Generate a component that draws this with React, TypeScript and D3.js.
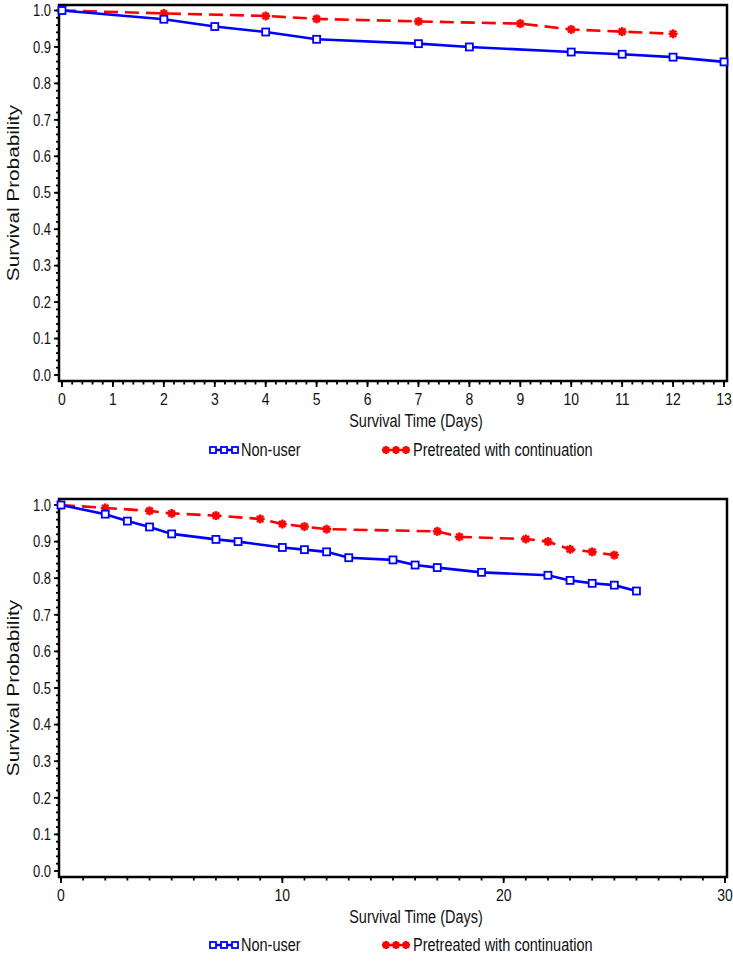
import React from "react";
import * as d3 from "d3";

// ---- Data ----
const topNonUserDays = [0, 2, 3, 4, 5, 7, 8, 10, 11, 12, 13];
const topNonUserSurv = [1.0, 0.976, 0.956, 0.941, 0.921, 0.909, 0.9, 0.886, 0.88, 0.872, 0.859];
const topPreDays = [0, 2, 4, 5, 7, 9, 10, 11, 12];
const topPreSurv = [1.0, 0.992, 0.985, 0.977, 0.97, 0.964, 0.948, 0.942, 0.936];

const botNonUserDays = [0, 2, 3, 4, 5, 7, 8, 10, 11, 12, 13, 15, 16, 17, 19, 22, 23, 24, 25, 26];
const botNonUserSurv = [1.0, 0.975, 0.956, 0.94, 0.921, 0.906, 0.9, 0.884, 0.878, 0.872, 0.856, 0.85, 0.836, 0.829, 0.816, 0.808, 0.794, 0.786, 0.781, 0.765];
const botPreDays = [0, 2, 4, 5, 7, 9, 10, 11, 12, 17, 18, 21, 22, 23, 24, 25];
const botPreSurv = [1.0, 0.992, 0.984, 0.977, 0.971, 0.962, 0.948, 0.941, 0.934, 0.928, 0.913, 0.907, 0.9, 0.879, 0.872, 0.863];

const seriesNames = ["Non-user", "Pretreated with continuation"];
const yTickValues = [0, 0.1, 0.2, 0.3, 0.4, 0.5, 0.6, 0.7, 0.8, 0.9, 1.0];
const topXTicks = d3.range(0, 14);
const botXTicks = [0, 10, 20, 30];
const xTitle = "Survival Time (Days)";
const yTitle = "Survival Probability";

const BLUE = "#0000ff";
const RED = "#ff0000";
const FONT = "'Liberation Sans', Arial, sans-serif";
const STRETCH = 1.22;

type Panel = {
  frame: { x0: number; x1: number; y0: number; y1: number };
  xDomain: [number, number];
  xRange: [number, number];
  yRange: [number, number];
  xTicks: number[];
  xMinorStep: number;
  nonUser: { d: number[]; s: number[] };
  pre: { d: number[]; s: number[] };
  legendY: number;
};

const panels: Panel[] = [
  {
    frame: { x0: 59, x1: 727, y0: 5, y1: 381 },
    xDomain: [0, 13],
    xRange: [62, 724],
    yRange: [375, 10.5],
    xTicks: topXTicks,
    xMinorStep: 0.2,
    nonUser: { d: topNonUserDays, s: topNonUserSurv },
    pre: { d: topPreDays, s: topPreSurv },
    legendY: 450,
  },
  {
    frame: { x0: 59, x1: 727, y0: 499, y1: 877 },
    xDomain: [0, 30],
    xRange: [61, 725],
    yRange: [871, 505],
    xTicks: botXTicks,
    xMinorStep: 1,
    nonUser: { d: botNonUserDays, s: botNonUserSurv },
    pre: { d: botPreDays, s: botPreSurv },
    legendY: 945,
  },
];

function SText({
  x,
  y,
  size,
  anchor = "start",
  children,
}: {
  x: number;
  y: number;
  size: number;
  anchor?: string;
  children: React.ReactNode;
}) {
  // text centred vertically on y, stretched vertically like the reference
  return (
    <text
      transform={`translate(${x},${y}) scale(1,${STRETCH})`}
      dy="0.36em"
      textAnchor={anchor as any}
      fontSize={size}
      fontFamily={FONT}
      fill="#111"
    >
      {children}
    </text>
  );
}

function Star({ x, y, r = 4.5 }: { x: number; y: number; r?: number }) {
  const angles = [0, 45, 90, 135];
  return (
    <g transform={`translate(${x},${y})`}>
      {angles.map((a) => {
        const rad = (a * Math.PI) / 180;
        const dx = Math.cos(rad) * r;
        const dy = Math.sin(rad) * r;
        return <line key={a} x1={-dx} y1={-dy} x2={dx} y2={dy} stroke={RED} strokeWidth={2.4} />;
      })}
      <circle r={2.4} fill={RED} />
    </g>
  );
}

function Square({ x, y, s = 7, fill = "white" }: { x: number; y: number; s?: number; fill?: string }) {
  return <rect x={x - s / 2} y={y - s / 2} width={s} height={s} fill={fill} stroke={BLUE} strokeWidth={1.8} />;
}

function PanelView({ p }: { p: Panel }) {
  const x = d3.scaleLinear().domain(p.xDomain).range(p.xRange);
  const y = d3.scaleLinear().domain([0, 1]).range(p.yRange);
  const line = d3
    .line<[number, number]>()
    .x((d) => x(d[0]))
    .y((d) => y(d[1]));
  const nu: [number, number][] = p.nonUser.d.map((d, i) => [d, p.nonUser.s[i]]);
  const pr: [number, number][] = p.pre.d.map((d, i) => [d, p.pre.s[i]]);
  const { x0, x1, y0, y1 } = p.frame;
  const minorX = d3.range(p.xDomain[0], p.xDomain[1] + 1e-9, p.xMinorStep);
  const minorY = d3.range(0, 1.0001, 0.02);
  const yMid = (y0 + y1) / 2;
  const ly = p.legendY;
  return (
    <g>
      {/* frame */}
      <rect x={x0} y={y0} width={x1 - x0} height={y1 - y0} fill="none" stroke="black" strokeWidth={2.5} />
      {/* y ticks */}
      {minorY.map((v, i) => (
        <line key={"ym" + i} x1={x0} x2={x0 - 3} y1={y(v)} y2={y(v)} stroke="black" strokeWidth={1.8} />
      ))}
      {yTickValues.map((v) => (
        <g key={"y" + v}>
          <line x1={x0} x2={x0 - 5} y1={y(v)} y2={y(v)} stroke="black" strokeWidth={1.8} />
          <SText x={51} y={y(v)} size={13} anchor="end">
            {v.toFixed(1)}
          </SText>
        </g>
      ))}
      {/* x ticks */}
      {minorX.map((v, i) => (
        <line key={"xm" + i} x1={x(v)} x2={x(v)} y1={y1} y2={y1 + 3.5} stroke="black" strokeWidth={1.8} />
      ))}
      {p.xTicks.map((v) => (
        <g key={"x" + v}>
          <line x1={x(v)} x2={x(v)} y1={y1} y2={y1 + 6} stroke="black" strokeWidth={1.8} />
          <SText x={x(v)} y={y1 + 18} size={14} anchor="middle">
            {v}
          </SText>
        </g>
      ))}
      {/* axis titles */}
      <SText x={416} y={y1 + 40} size={14.5} anchor="middle">
        {xTitle}
      </SText>
      <text
        transform={`translate(19,${yMid}) rotate(-90) scale(${STRETCH},1)`}
        textAnchor="middle"
        fontSize={17}
        fontFamily={FONT}
        fill="#111"
      >
        {yTitle}
      </text>
      {/* series */}
      <path d={line(pr) || ""} fill="none" stroke={RED} strokeWidth={2.6} strokeDasharray="14,7" />
      <path d={line(nu) || ""} fill="none" stroke={BLUE} strokeWidth={2.6} />
      {pr.map((d, i) => (
        <Star key={"s" + i} x={x(d[0])} y={y(d[1])} />
      ))}
      {nu.map((d, i) => (
        <Square key={"q" + i} x={x(d[0])} y={y(d[1])} />
      ))}
      {/* legend */}
      <line x1={210} x2={238} y1={ly} y2={ly} stroke={BLUE} strokeWidth={2.5} />
      {[213, 224, 235].map((lx) => (
        <Square key={"lq" + lx} x={lx} y={ly} s={6} />
      ))}
      <SText x={241} y={ly} size={14.5}>
        {seriesNames[0]}
      </SText>
      <line x1={382} x2={410} y1={ly} y2={ly} stroke={RED} strokeWidth={2.5} />
      {[386, 396, 406].map((lx) => (
        <Star key={"ls" + lx} x={lx} y={ly} r={4} />
      ))}
      <SText x={413} y={ly} size={14.5}>
        {seriesNames[1]}
      </SText>
    </g>
  );
}

export default function App() {
  return (
    <svg
      width={733}
      height={961}
      viewBox="0 0 733 961"
      style={{ position: "absolute", left: 0, top: 0, background: "white" }}
    >
      <rect width={733} height={961} fill="white" />
      {panels.map((p, i) => (
        <PanelView key={i} p={p} />
      ))}
    </svg>
  );
}
